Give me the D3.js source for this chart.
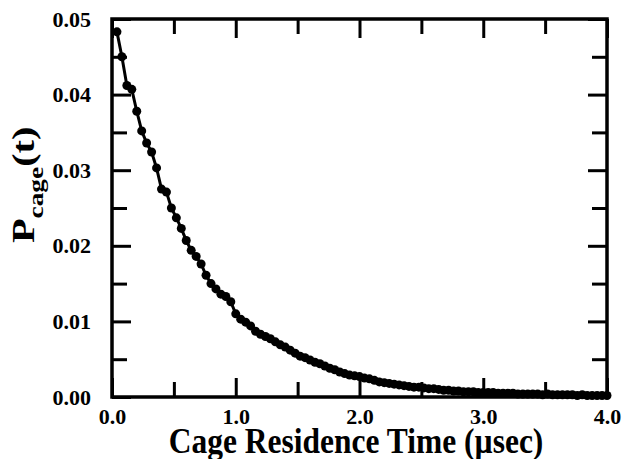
<!DOCTYPE html>
<html>
<head>
<meta charset="utf-8">
<script src="https://cdn.jsdelivr.net/npm/d3@7"></script>
<style>
  body { margin: 0; background: #fff; }
  text { font-family: 'Liberation Serif', 'Times New Roman', serif; font-weight: bold; fill: #000; }
</style>
</head>
<body>
<div id="chart"></div>
<script>
// residence time in microseconds
const times = [
  0.04, 0.08, 0.12, 0.16, 0.20, 0.24, 0.28, 0.32, 0.36, 0.40,
  0.44, 0.48, 0.52, 0.56, 0.60, 0.64, 0.68, 0.72, 0.76, 0.80,
  0.84, 0.88, 0.92, 0.96, 1.00, 1.04, 1.08, 1.12, 1.16, 1.20,
  1.24, 1.28, 1.32, 1.36, 1.40, 1.44, 1.48, 1.52, 1.56, 1.60,
  1.64, 1.68, 1.72, 1.76, 1.80, 1.84, 1.88, 1.92, 1.96, 2.00,
  2.04, 2.08, 2.12, 2.16, 2.20, 2.24, 2.28, 2.32, 2.36, 2.40,
  2.44, 2.48, 2.52, 2.56, 2.60, 2.64, 2.68, 2.72, 2.76, 2.80,
  2.84, 2.88, 2.92, 2.96, 3.00, 3.04, 3.08, 3.12, 3.16, 3.20,
  3.24, 3.28, 3.32, 3.36, 3.40, 3.44, 3.48, 3.52, 3.56, 3.60,
  3.64, 3.68, 3.72, 3.76, 3.80, 3.84, 3.88, 3.92, 3.96, 4.00
]
// P_cage(t)
const pcage = [
  0.0483, 0.0450, 0.0412, 0.0407, 0.0378, 0.0352, 0.0336, 0.0324, 0.0303, 0.0275,
  0.0271, 0.0250, 0.0237, 0.0223, 0.0207, 0.0194, 0.0186, 0.0176, 0.0161, 0.0150,
  0.0143, 0.0136, 0.0133, 0.0126, 0.0110, 0.0103, 0.0099, 0.0094, 0.0087, 0.0083,
  0.0080, 0.0077, 0.0073, 0.0069, 0.0066, 0.0062, 0.0058, 0.0054, 0.0052, 0.0049,
  0.0046, 0.0044, 0.0041, 0.0038, 0.0036, 0.0033, 0.0031, 0.0029, 0.0028, 0.0027,
  0.0025, 0.0024, 0.0022, 0.0020, 0.0019, 0.0018, 0.0017, 0.0016, 0.0015, 0.0014,
  0.0013, 0.0013, 0.0012, 0.0011, 0.0011, 0.0010, 0.0009, 0.0009, 0.0008, 0.0008,
  0.0007, 0.0007, 0.0007, 0.0006, 0.0006, 0.0006, 0.0006, 0.0005, 0.0005, 0.0005,
  0.0005, 0.0004, 0.0004, 0.0004, 0.0004, 0.0004, 0.0003, 0.0004, 0.0003, 0.0003,
  0.0003, 0.0003, 0.0003, 0.0002, 0.0003, 0.0002, 0.0002, 0.0002, 0.0002, 0.0002
]
const xMajor = [0, 1, 2, 3, 4]
const xMinor = [0.5, 1.5, 2.5, 3.5]
const yMajor = [0, 0.01, 0.02, 0.03, 0.04, 0.05]
const yMinor = [0.005, 0.015, 0.025, 0.035, 0.045]

const W = 623
const H = 459
const margin = { top: 19, left: 112, right: 16, bottom: 62 }
const width = W - margin.left - margin.right
const height = H - margin.top - margin.bottom

const svg = d3.select('#chart')
  .append('svg')
  .attr('width', W)
  .attr('height', H)

const g = svg.append('g')
  .attr('transform', `translate(${margin.left}, ${margin.top})`)

const x = d3.scaleLinear().domain([0, 4]).range([0, width])
const y = d3.scaleLinear().domain([0, 0.05]).range([height, 0])

// ticks point inward on all four sides
function ticks (axis, values, size, pad, fmt) {
  return axis.tickValues(values).tickSizeInner(-size).tickSizeOuter(0)
    .tickPadding(pad).tickFormat(fmt || '')
}
const styleAxis = sel => {
  sel.select('.domain').remove()
  sel.selectAll('line').attr('stroke', '#000').attr('stroke-width', 3)
  sel.selectAll('text').style('font-size', '22px')
}

g.append('g').attr('transform', `translate(0, ${height})`)
  .call(ticks(d3.axisBottom(x), xMajor, 19, 11, d3.format('.1f'))).call(styleAxis)
g.append('g').attr('transform', `translate(0, ${height})`)
  .call(ticks(d3.axisBottom(x), xMinor, 15, 11)).call(styleAxis)
g.append('g').call(ticks(d3.axisTop(x), xMajor, 19, 8)).call(styleAxis)
g.append('g').call(ticks(d3.axisTop(x), xMinor, 15, 8)).call(styleAxis)

g.append('g')
  .call(ticks(d3.axisLeft(y), yMajor, 19, 21, d3.format('.2f'))).call(styleAxis)
g.append('g').call(ticks(d3.axisLeft(y), yMinor, 15, 21)).call(styleAxis)
g.append('g').attr('transform', `translate(${width}, 0)`)
  .call(ticks(d3.axisRight(y), yMajor, 19, 8)).call(styleAxis)
g.append('g').attr('transform', `translate(${width}, 0)`)
  .call(ticks(d3.axisRight(y), yMinor, 15, 8)).call(styleAxis)

g.append('rect')
  .attr('width', width)
  .attr('height', height)
  .attr('fill', 'none')
  .attr('stroke', '#000')
  .attr('stroke-width', 3.5)

const data = times.map((t, i) => ({ t, p: pcage[i] }))

g.append('path')
  .datum(data)
  .attr('fill', 'none')
  .attr('stroke', '#000')
  .attr('stroke-width', 3)
  .attr('d', d3.line().x(d => x(d.t)).y(d => y(d.p)))

g.selectAll('circle')
  .data(data)
  .enter()
  .append('circle')
  .attr('cx', d => x(d.t))
  .attr('cy', d => y(d.p))
  .attr('r', 4.5)
  .attr('fill', '#000')

// axis titles
svg.append('text')
  .attr('transform', 'translate(356, 453) scale(1, 1.12)')
  .attr('text-anchor', 'middle')
  .style('font-size', '31.5px')
  .text('Cage Residence Time (\u00b5sec)')

const yt = svg.append('text')
  .attr('transform', 'translate(34, 243) rotate(-90) scale(1.3, 1)')
  .attr('text-anchor', 'start')
  .style('font-size', '31px')
yt.append('tspan').text('P')
yt.append('tspan').attr('dy', 9).style('font-size', '21px').text('cage')
yt.append('tspan').attr('dy', -9).text('(t)')
</script>
</body>
</html>
